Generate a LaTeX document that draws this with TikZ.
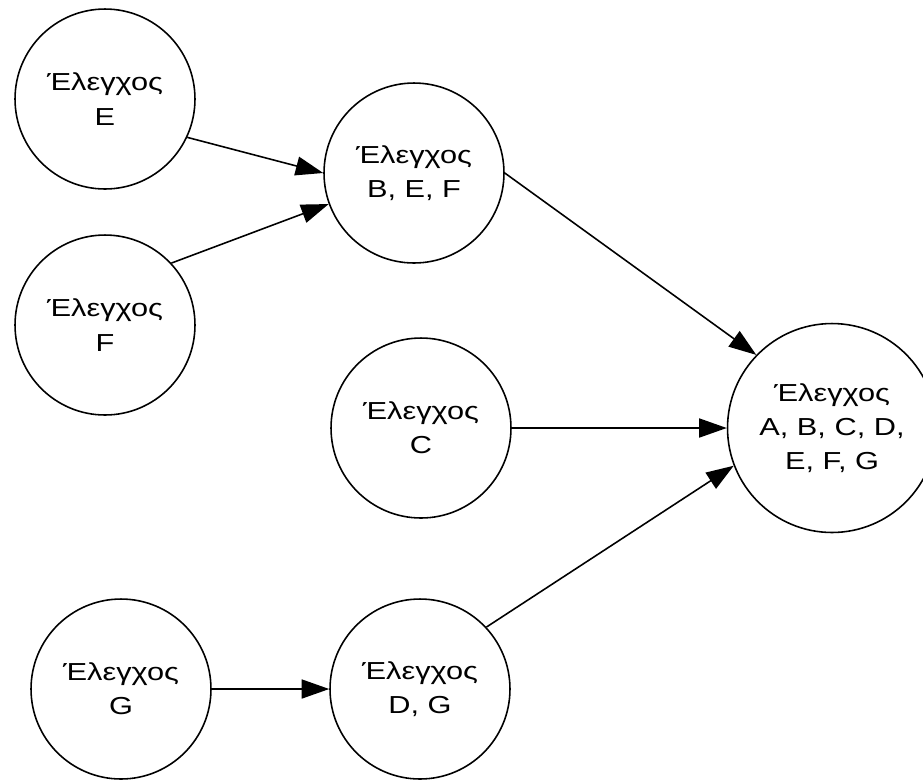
\documentclass[tikz,border=0pt]{standalone}
\usepackage{fontspec}
\setmainfont{Liberation Sans}[FakeStretch=1.25]
\usetikzlibrary{arrows.meta}

\begin{document}
\begin{tikzpicture}[x=0.02cm,y=-0.02cm,
    check/.style={draw,circle,line width=0.9pt,minimum size=3.6cm,inner sep=0pt,
      align=center,font=\fontsize{14}{19.5}\selectfont},
    link/.style={line width=0.9pt,-{Triangle[length=0.55cm,width=0.38cm]}}]
       \clip (0,0) rectangle (923,779);
       \node[check] (e)   at (105, 99) {Έλεγχος\\E};
       \node[check] (f)   at (105,325) {Έλεγχος\\F};
       \node[check] (bef) at (414,173) {Έλεγχος\\B, E, F};
       \node[check] (c)   at (421,428) {Έλεγχος\\C};
       \node[check] (g)   at (121,689) {Έλεγχος\\G};
       \node[check] (dg)  at (420,689) {Έλεγχος\\D, G};
       \node[check,minimum size=4.18cm] (all) at (832,428)
         {Έλεγχος\\A, B, C, D,\\E, F, G};
       \draw[link] (e.-25)  -- (bef.180);
       \draw[link] (f.43)   -- (bef.200);
       \draw[link] (bef.0)  -- (all.136);
       \draw[link] (c.0)    -- (all.180);
       \draw[link] (dg.43)  -- (all.201);
       \draw[link] (g.0)    -- (dg.180);
      \end{tikzpicture}
\end{document}
